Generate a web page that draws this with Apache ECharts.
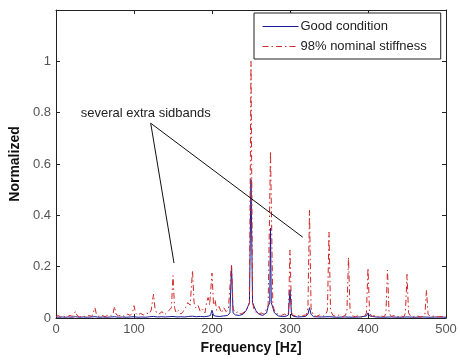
<!DOCTYPE html>
<html>
<head>
<meta charset="utf-8">
<script src="https://cdn.jsdelivr.net/npm/echarts@6/dist/echarts.min.js"></script>
<style>html,body{margin:0;padding:0;background:#fff}#c{width:460px;height:360px}</style>
</head>
<body>
<div id="c"></div>
<script>
// Frequency axis ticks
var xTicks = [0, 100, 200, 300, 400, 500];
var yTicks = [0, 0.2, 0.4, 0.6, 0.8, 1];
var seriesNames = ['Good condition', '98% nominal stiffness'];

// Good condition spectrum (Hz, normalized)
var freqGood = [0,4,8,12,16,20,25,30,35,40,45,50,55,60,65,70,75,80,85,90,95,100,105,110,115,120,125,130,135,140,145,150,155,160,165,170,175,180,185,190,195,198,200,202,205,210,215,220,223,225,227,230,235,240,244,246,248,250,252,254,256,260,265,270,272,274,275,276,278,280,285,290,295,298,300,302,305,310,315,320,323,325,327,330,340,350,360,370,380,390,398,400,402,410,420,430,440,450,460,470,480,490,500];
var valGood = [0.004,0.003,0.004,0.003,0.004,0.003,0.005,0.003,0.004,0.003,0.004,0.005,0.003,0.004,0.003,0.004,0.005,0.003,0.004,0.003,0.004,0.005,0.003,0.004,0.003,0.005,0.006,0.004,0.005,0.004,0.005,0.006,0.004,0.005,0.004,0.006,0.007,0.005,0.006,0.005,0.007,0.01,0.03,0.01,0.007,0.006,0.008,0.01,0.02,0.2,0.02,0.012,0.01,0.015,0.03,0.045,0.06,0.54,0.06,0.045,0.03,0.015,0.01,0.02,0.045,0.06,0.35,0.06,0.04,0.02,0.008,0.006,0.007,0.012,0.11,0.012,0.006,0.004,0.005,0.006,0.015,0.04,0.015,0.005,0.004,0.005,0.003,0.004,0.003,0.004,0.008,0.02,0.008,0.004,0.003,0.004,0.003,0.004,0.003,0.004,0.003,0.004,0.003];

// 98% nominal stiffness spectrum (Hz, normalized)
var freqStiff = [0,3,6,9,12,15,18,21,23,25,27,30,34,38,42,46,48,50,52,55,59,63,67,70,73,75,77,80,84,88,92,95,98,100,102,105,108,112,116,119,122,125,127,129,132,136,139,142,145,148,150,152,154,157,160,163,166,169,172,175,177,179,182,185,188,191,193,195,197,200,202,204,206,209,212,215,218,221,223,225,227,230,234,237,240,243,246,248,250,252,254,257,260,263,266,269,272,275,278,281,285,289,293,296,298,300,302,305,309,313,317,321,323,325,327,330,334,338,342,346,348,350,352,355,359,363,367,371,373,375,377,380,384,388,392,396,398,400,402,405,409,413,417,421,423,425,427,430,434,438,442,446,448,450,452,455,459,463,467,471,473,475,477,480,485,490,495,500];
var valStiff = [0.005,0.01,0.004,0.008,0.003,0.006,0.01,0.006,0.012,0.026,0.01,0.004,0.008,0.005,0.01,0.006,0.012,0.04,0.012,0.006,0.01,0.005,0.012,0.008,0.015,0.045,0.015,0.008,0.012,0.006,0.015,0.01,0.02,0.048,0.02,0.01,0.018,0.012,0.02,0.015,0.03,0.093,0.035,0.02,0.015,0.025,0.012,0.02,0.03,0.04,0.165,0.04,0.02,0.03,0.015,0.025,0.04,0.06,0.05,0.185,0.06,0.04,0.05,0.025,0.035,0.02,0.06,0.08,0.05,0.175,0.05,0.07,0.03,0.045,0.02,0.04,0.025,0.035,0.04,0.21,0.035,0.02,0.025,0.015,0.02,0.03,0.04,0.06,1.0,0.06,0.03,0.02,0.015,0.02,0.015,0.03,0.05,0.65,0.05,0.02,0.015,0.01,0.015,0.01,0.02,0.265,0.02,0.008,0.012,0.006,0.01,0.012,0.04,0.42,0.04,0.01,0.006,0.012,0.006,0.015,0.03,0.335,0.03,0.01,0.006,0.012,0.005,0.01,0.03,0.237,0.03,0.008,0.005,0.01,0.004,0.008,0.02,0.195,0.02,0.006,0.01,0.004,0.008,0.005,0.02,0.187,0.02,0.006,0.01,0.004,0.008,0.005,0.02,0.17,0.02,0.006,0.004,0.008,0.004,0.006,0.015,0.109,0.015,0.005,0.008,0.004,0.006,0.005];

// Annotation (data coordinates)
var noteText = 'several extra sidbands';
var notePos = [31, 0.798];
var arrowStart = [121.4, 0.759];
var arrowEnds = [[151.3, 0.214], [316.3, 0.315]];

function zip(xs, ys) { return xs.map(function (x, i) { return [x, ys[i]]; }); }

var FONT = '"Liberation Sans", Arial, sans-serif';
var chart = echarts.init(document.getElementById('c'), null, {renderer: 'canvas'});
var axisLine = {show: true, onZero: false, lineStyle: {color: '#222', width: 1}};
var tick = {show: true, inside: true, length: 4, lineStyle: {color: '#222'}};
chart.setOption({
  animation: false,
  backgroundColor: '#fff',
  grid: {left: 56, right: 14, top: 10, bottom: 42},
  legend: {
    orient: 'vertical', left: 254, top: 13,
    data: seriesNames,
    itemWidth: 36, itemHeight: 10, itemGap: 7,
    padding: [7, 14, 6, 8],
    borderColor: '#222', borderWidth: 1, backgroundColor: '#fff',
    itemStyle: {opacity: 0},
    lineStyle: {width: 1},
    textStyle: {fontFamily: FONT, fontSize: 13, color: '#222', padding: [0, 0, 0, -3]}
  },
  xAxis: [{
    type: 'value', min: 0, max: 500, interval: 100,
    name: 'Frequency [Hz]', nameLocation: 'middle', nameGap: 22,
    nameTextStyle: {fontFamily: FONT, fontSize: 14, fontWeight: 'bold', color: '#111'},
    axisLine: axisLine, axisTick: tick, splitLine: {show: false},
    axisLabel: {fontFamily: FONT, fontSize: 13, color: '#555', margin: 5,
      formatter: function (v) { return xTicks.indexOf(v) >= 0 ? String(v) : ''; }}
  }, {
    type: 'value', min: 0, max: 500, interval: 100, position: 'top',
    axisLine: axisLine, axisTick: tick, axisLabel: {show: false}, splitLine: {show: false}
  }],
  yAxis: [{
    type: 'value', min: 0, max: 1.2, interval: 0.2,
    name: 'Normalized', nameLocation: 'middle', nameGap: 28,
    nameTextStyle: {fontFamily: FONT, fontSize: 14, fontWeight: 'bold', color: '#111'},
    axisLine: axisLine, axisTick: tick, splitLine: {show: false},
    axisLabel: {fontFamily: FONT, fontSize: 13, color: '#555', margin: 5,
      formatter: function (v) {
        var r = Math.round(v * 10) / 10;
        return yTicks.indexOf(r) >= 0 ? String(r) : '';
      }}
  }, {
    type: 'value', min: 0, max: 1.2, interval: 0.2, position: 'right',
    axisLine: axisLine, axisTick: tick, axisLabel: {show: false}, splitLine: {show: false}
  }],
  series: [{
    name: seriesNames[0], type: 'line', symbol: 'none', z: 2,
    data: zip(freqGood, valGood),
    lineStyle: {color: '#1a1a9a', width: 1},
    itemStyle: {color: '#1a1a9a'}
  }, {
    name: seriesNames[1], type: 'line', symbol: 'none', z: 3,
    data: zip(freqStiff, valStiff),
    lineStyle: {color: '#d02828', width: 1, type: [6, 3, 1.5, 3]},
    itemStyle: {color: '#d02828'},
    markLine: {
      silent: true, symbol: ['none', 'arrow'], symbolSize: [0, 10], animation: false,
      lineStyle: {color: '#111', width: 1, type: 'solid'}, label: {show: false},
      data: arrowEnds.map(function (e) { return [{coord: arrowStart}, {coord: e}]; })
    },
    markPoint: {
      silent: true, animation: false,
      data: [{coord: notePos, symbol: 'rect', symbolSize: 1, itemStyle: {color: 'rgba(0,0,0,0)'},
        label: {show: true, formatter: noteText, position: 'right', distance: 0,
          fontFamily: FONT, fontSize: 13, color: '#222'}}]
    }
  }]
});
</script>
</body>
</html>
